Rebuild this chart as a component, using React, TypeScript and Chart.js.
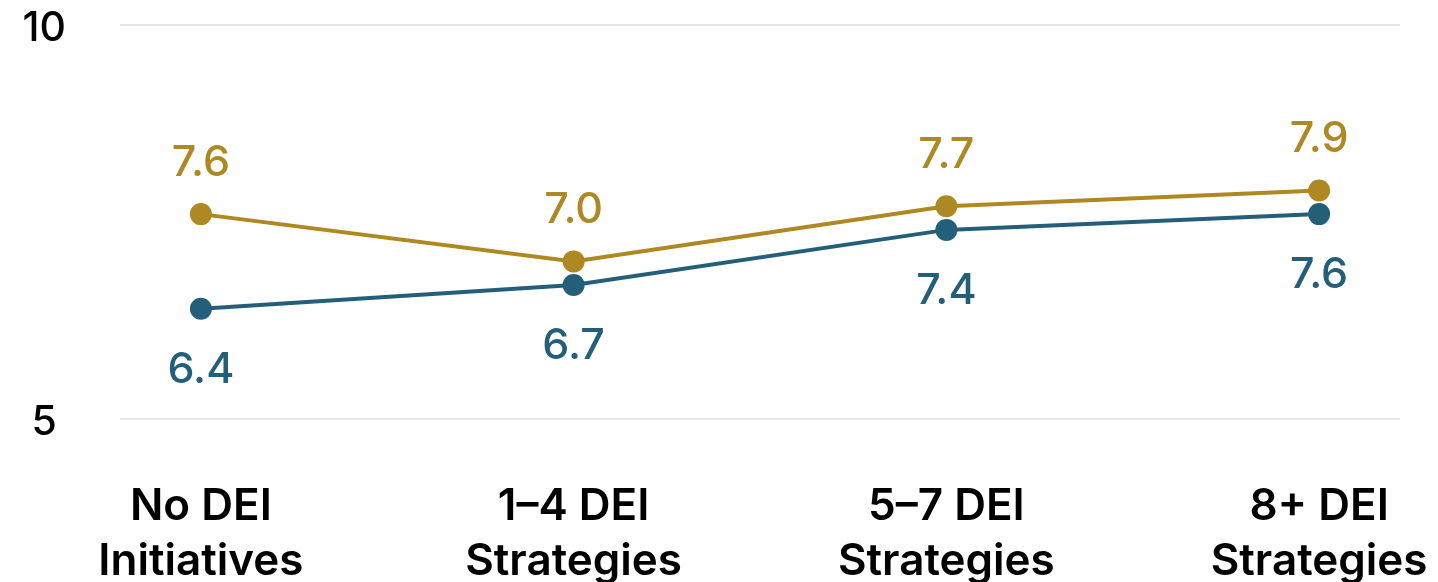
import React, { useEffect, useRef } from "react";
import { Chart, registerables } from "chart.js";

Chart.register(...registerables);

const categories: string[][] = [
  ["No DEI", "Initiatives"],
  ["1–4 DEI", "Strategies"],
  ["5–7 DEI", "Strategies"],
  ["8+ DEI", "Strategies"],
];
const goldValues = [7.6, 7.0, 7.7, 7.9];
const tealValues = [6.4, 6.7, 7.4, 7.6];
const yTicks = [5, 10];

const GOLD = "#AE8822";
const TEAL = "#245F79";
const FONT = "Inter";

const valueLabels = {
  id: "valueLabels",
  afterDatasetsDraw(chart: any) {
    const ctx = chart.ctx;
    chart.data.datasets.forEach((ds: any, di: number) => {
      const meta = chart.getDatasetMeta(di);
      meta.data.forEach((pt: any, i: number) => {
        const v = ds.data[i].y as number;
        ctx.save();
        ctx.font = `500 43px ${FONT}`;
        ctx.fillStyle = ds.borderColor;
        ctx.textAlign = "center";
        ctx.textBaseline = "middle";
        const dy = ds.labelPos === "above" ? -51 : 61;
        ctx.fillText(v.toFixed(1), pt.x, pt.y + dy);
        ctx.restore();
      });
    });
  },
};

export default function App() {
  const ref = useRef<HTMLCanvasElement | null>(null);
  useEffect(() => {
    if (!ref.current) return;
    const chart = new Chart(ref.current, {
      type: "line",
      data: {
        datasets: [
          {
            label: "teal",
            labelPos: "below",
            data: tealValues.map((v, i) => ({ x: i, y: v })),
            borderColor: TEAL,
            backgroundColor: TEAL,
            borderWidth: 4,
            pointRadius: 11,
            pointHoverRadius: 11,
            pointBorderWidth: 0,
            tension: 0,
          } as any,
          {
            label: "gold",
            labelPos: "above",
            data: goldValues.map((v, i) => ({ x: i, y: v })),
            borderColor: GOLD,
            backgroundColor: GOLD,
            borderWidth: 4,
            pointRadius: 11,
            pointHoverRadius: 11,
            pointBorderWidth: 0,
            tension: 0,
          } as any,
        ],
      },
      options: {
        animation: false,
        responsive: false,
        devicePixelRatio: 1,
        layout: { padding: { top: 25, right: 38, bottom: 0, left: 0 } },
        plugins: { legend: { display: false }, tooltip: { enabled: false } },
        scales: {
          x: {
            type: "linear",
            min: -0.217,
            max: 3.217,
            afterBuildTicks: (s: any) => {
              s.ticks = categories.map((_, i) => ({ value: i }));
            },
            afterFit: (s: any) => {
              s.height = 163;
              s.paddingLeft = 0;
              s.paddingRight = 0;
            },
            ticks: {
              autoSkip: false,
              maxRotation: 0,
              minRotation: 0,
              padding: 60,
              color: "#000",
              font: { family: FONT, size: 44, weight: "600", lineHeight: "55px" } as any,
              callback: (v: any) => categories[Math.round(v)] as any,
            },
            grid: { display: false, drawTicks: false },
            border: { display: false },
          },
          y: {
            min: 5,
            max: 10,
            afterBuildTicks: (s: any) => {
              s.ticks = yTicks.map((v) => ({ value: v }));
            },
            afterFit: (s: any) => {
              s.width = 120;
              s.paddingTop = 0;
              s.paddingBottom = 0;
            },
            ticks: {
              crossAlign: "center",
              padding: 54,
              labelOffset: 4,
              color: "#000",
              font: { family: FONT, size: 41, weight: "500" },
            },
            grid: { color: "#e6e6e6", lineWidth: 2, drawTicks: false },
            border: { display: false },
          },
        },
      } as any,
      plugins: [valueLabels],
    });
    return () => chart.destroy();
  }, []);
  return (
    <div style={{ position: "fixed", left: 0, top: 0, width: 1438, height: 582, background: "#fff" }}>
      <canvas ref={ref} width={1438} height={582} style={{ width: 1438, height: 582 }} />
    </div>
  );
}
